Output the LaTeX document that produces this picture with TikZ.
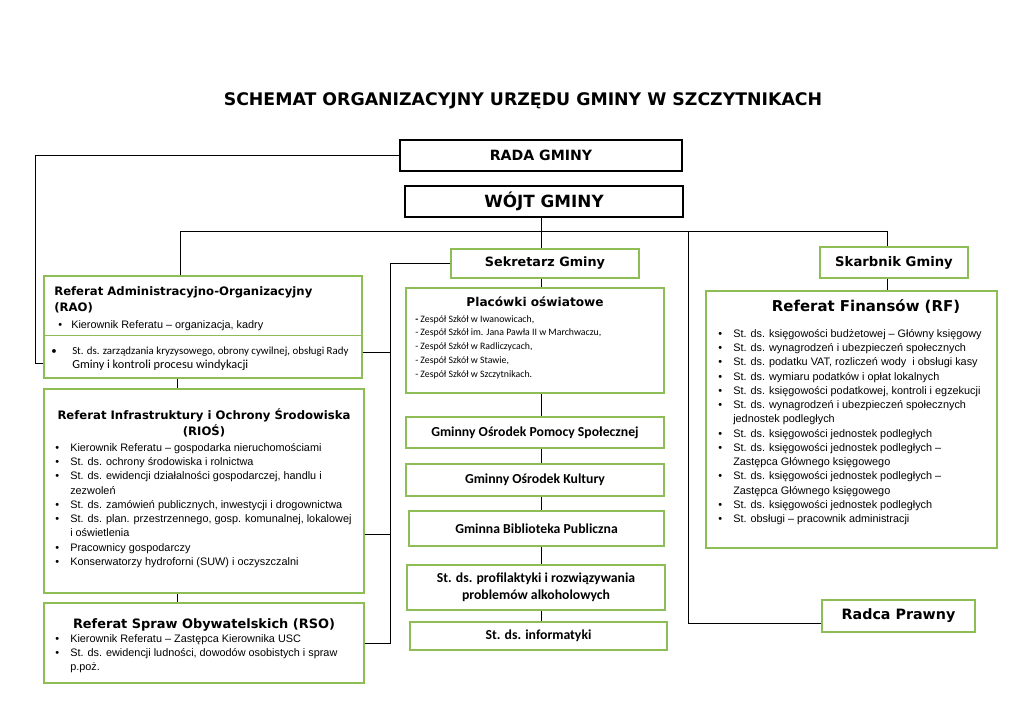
\documentclass[tikz,border=0pt]{standalone}
\usepackage{fontspec}
\setmainfont{Liberation Sans}
\newfontfamily\hfont{DejaVu Sans}
\newfontfamily\cfont{Carlito}
\usetikzlibrary{calc}
\definecolor{boxgreen}{RGB}{140,190,85}
\newcommand\bul{\makebox[11.25pt][l]{\textbullet}}
\newcommand\ind{\hspace*{11.25pt}}
\tikzset{
  bx/.style n args={4}{minimum width={(#3-#1)*0.75pt}, minimum height={(#4-#2)*0.75pt}, at={({(#1+#3)/2},{(#2+#4)/2})}},
  gbox/.style={draw=boxgreen, line width=1.1pt, inner sep=0pt},
  kbox/.style={draw=black, line width=1.4pt, inner sep=0pt},
  conn/.style={draw=black, line width=0.75pt},
  gline/.style={draw=boxgreen, line width=1.1pt},
  body/.style={font=\fontsize{8.15}{10.7}\selectfont, inner sep=0pt, align=left, anchor=north west},
  cbold/.style={font=\cfont\bfseries\fontsize{10.3}{12.6}\selectfont},
}
\begin{document}
\begin{tikzpicture}[x=0.75pt,y=-0.75pt]
\useasboundingbox (0,0) rectangle (1024,724);
\fill[white] (0,0) rectangle (1024,724);

\node[font=\hfont\bfseries\fontsize{13}{15}\selectfont] (title) at (523,101) {SCHEMAT ORGANIZACYJNY URZĘDU GMINY W SZCZYTNIKACH};

% top boxes
\node[kbox, bx={400}{140}{682}{171}, font=\hfont\bfseries\fontsize{10.6}{12}\selectfont] (rada) {RADA GMINY};
\node[kbox, bx={405}{186}{683}{217}, font=\hfont\bfseries\fontsize{12.6}{14}\selectfont] (wojt) {WÓJT GMINY};

% second level
\node[gbox, bx={451}{249}{639}{278}, font=\hfont\bfseries\fontsize{9.6}{12}\selectfont] (sek) {Sekretarz Gminy};
\node[gbox, bx={820}{247}{968}{278}, font=\hfont\bfseries\fontsize{9.9}{12}\selectfont] (skarb) {Skarbnik Gminy};

% left column
\node[gbox, bx={44}{276}{362}{378}] (rao) {};
\draw[gline] ($(rao.north west)+(0,60)$) -- ($(rao.north east)+(0,60)$);
\node[body, font=\hfont\bfseries\fontsize{8.75}{12}\selectfont] (raoT) at (54,286) {\rule{0pt}{7pt}Referat Administracyjno-Organizacyjny\\(RAO)};
\node[body] (raoL) at (58,318.7) {\rule{0pt}{7pt}\makebox[9.75pt][l]{\textbullet}Kierownik Referatu – organizacja, kadry};
\node[body, font=\cfont\fontsize{8.15}{10.7}\selectfont] (raoL2) at (51,345) {\rule{0pt}{7pt}\makebox[15.75pt][l]{\textbullet}St. ds. zarządzania kryzysowego, obrony cywilnej, obsługi Rady\\[-0.5pt]\hspace*{15.75pt}{\fontsize{9.2}{10}\selectfont Gminy i kontroli procesu windykacji}};

\node[gbox, bx={44}{389}{364}{593}] (rios) {};
\node[body, anchor=north, align=center, font=\hfont\bfseries\fontsize{8.75}{12}\selectfont] (riosT) at (204,408.7) {\rule{0pt}{7pt}Referat Infrastruktury i Ochrony Środowiska\\(RIOŚ)};
\node[body] (riosL) at (55,441.7) {\rule{0pt}{7pt}%
\bul Kierownik Referatu – gospodarka nieruchomościami\\
\bul St. ds. ochrony środowiska i rolnictwa\\
\bul St. ds. ewidencji działalności gospodarczej, handlu i\\
\ind zezwoleń\\
\bul St. ds. zamówień publicznych, inwestycji i drogownictwa\\
\bul St. ds. plan. przestrzennego, gosp. komunalnej, lokalowej\\
\ind i oświetlenia\\
\bul Pracownicy gospodarczy\\
\bul Konserwatorzy hydroforni (SUW) i oczyszczalni};

\node[gbox, bx={44}{603}{364}{683}] (rso) {};
\node[font=\hfont\bfseries\fontsize{9.7}{12}\selectfont, inner sep=0pt, anchor=base] (rsoT) at (204,628) {Referat Spraw Obywatelskich (RSO)};
\node[body] (rsoL) at (55,632.7) {\rule{0pt}{7pt}%
\bul Kierownik Referatu – Zastępca Kierownika USC\\
\bul St. ds. ewidencji ludności, dowodów osobistych i spraw\\
\ind p.poż.};

% middle column
\node[gbox, bx={406}{288}{664}{393}] (plac) {};
\node[font=\hfont\bfseries\fontsize{9.1}{12}\selectfont, inner sep=0pt, anchor=base] (placT) at (535,306) {Placówki oświatowe};
\node[body, font=\cfont\fontsize{7.35}{10.3}\selectfont] (placL) at (415,312.5) {\rule{0pt}{7pt}%
\textbf{-} Zespół Szkół w Iwanowicach,\\
- Zespół Szkół im. Jana Pawła II w Marchwaczu,\\
- Zespół Szkół w Radliczycach,\\
- Zespół Szkół w Stawie,\\
- Zespół Szkół w Szczytnikach.};

\node[gbox, cbold, bx={406}{417}{664}{448}] (gops) {Gminny Ośrodek Pomocy Społecznej};
\node[gbox, cbold, bx={406}{464}{664}{496}] (gok) {Gminny Ośrodek Kultury};
\node[gbox, cbold, bx={409}{511}{664}{546}] (gbp) {Gminna Biblioteka Publiczna};
\node[gbox, cbold, align=center, bx={407}{565}{665}{610}] (prof) {St. ds. profilaktyki i rozwiązywania\\problemów alkoholowych};
\node[gbox, cbold, bx={410}{622}{667}{650}] (info) {St. ds. informatyki};

% right column
\node[gbox, bx={706}{291}{997}{548}] (rf) {};
\node[font=\hfont\bfseries\fontsize{11.2}{12}\selectfont, inner sep=0pt, anchor=base] (rfT) at (866,311) {Referat Finansów (RF)};
\node[body] (rfL) at (718,327.7) {\rule{0pt}{7pt}%
\bul St. ds. księgowości budżetowej – Główny księgowy\\
\bul St. ds. wynagrodzeń i ubezpieczeń społecznych\\
\bul St. ds. podatku VAT, rozliczeń wody \ i obsługi kasy\\
\bul St. ds. wymiaru podatków i opłat lokalnych\\
\bul St. ds. księgowości podatkowej, kontroli i egzekucji\\
\bul St. ds. wynagrodzeń i ubezpieczeń społecznych\\
\ind jednostek podległych\\
\bul St. ds. księgowości jednostek podległych\\
\bul St. ds. księgowości jednostek podległych –\\
\ind Zastępca Głównego księgowego\\
\bul St. ds. księgowości jednostek podległych –\\
\ind Zastępca Głównego księgowego\\
\bul St. ds. księgowości jednostek podległych\\
\bul St. obsługi – pracownik administracji};

\node[gbox, bx={822}{600}{975}{632}, font=\hfont\bfseries\fontsize{10.7}{12}\selectfont] (radca) {Radca Prawny};

% connectors
\coordinate (cx) at (541,0);
\coordinate (lx) at (177,0);
\coordinate (rx) at (887,0);
\coordinate (vR) at (688,232);
\draw[conn] (rada.west) -- ++(-364,0) |- ($(rao.south west)+(0,-15)$);
\draw[conn] (cx |- wojt.south) -- (cx |- sek.north);
\draw[conn] ($(rao.north west)+(137,0)$) -- ++(0,-44) -| (rx |- skarb.north);
\draw[conn] (vR) |- ($(radca.west)+(0,7)$);
\draw[conn] (sek.west) -- ++(-60,0) |- (rso.east);
\draw[conn] ($(rao.south east)+(0,-26)$) -- ++(28,0);
\draw[conn] ($(rios.south east)+(0,-59)$) -- ++(26,0);
\draw[conn] (cx |- sek.south) -- (cx |- plac.north);
\draw[conn] (cx |- plac.south) -- (cx |- gops.north);
\draw[conn] (cx |- gops.south) -- (cx |- gok.north);
\draw[conn] (cx |- gok.south) -- (cx |- gbp.north);
\draw[conn] (cx |- gbp.south) -- (cx |- prof.north);
\draw[conn] (cx |- prof.south) -- (cx |- info.north);
\draw[conn] (lx |- rao.south) -- (lx |- rios.north);
\draw[conn] (lx |- rios.south) -- (lx |- rso.north);
\draw[conn] (rx |- skarb.south) -- (rx |- rf.north);
\end{tikzpicture}
\end{document}
